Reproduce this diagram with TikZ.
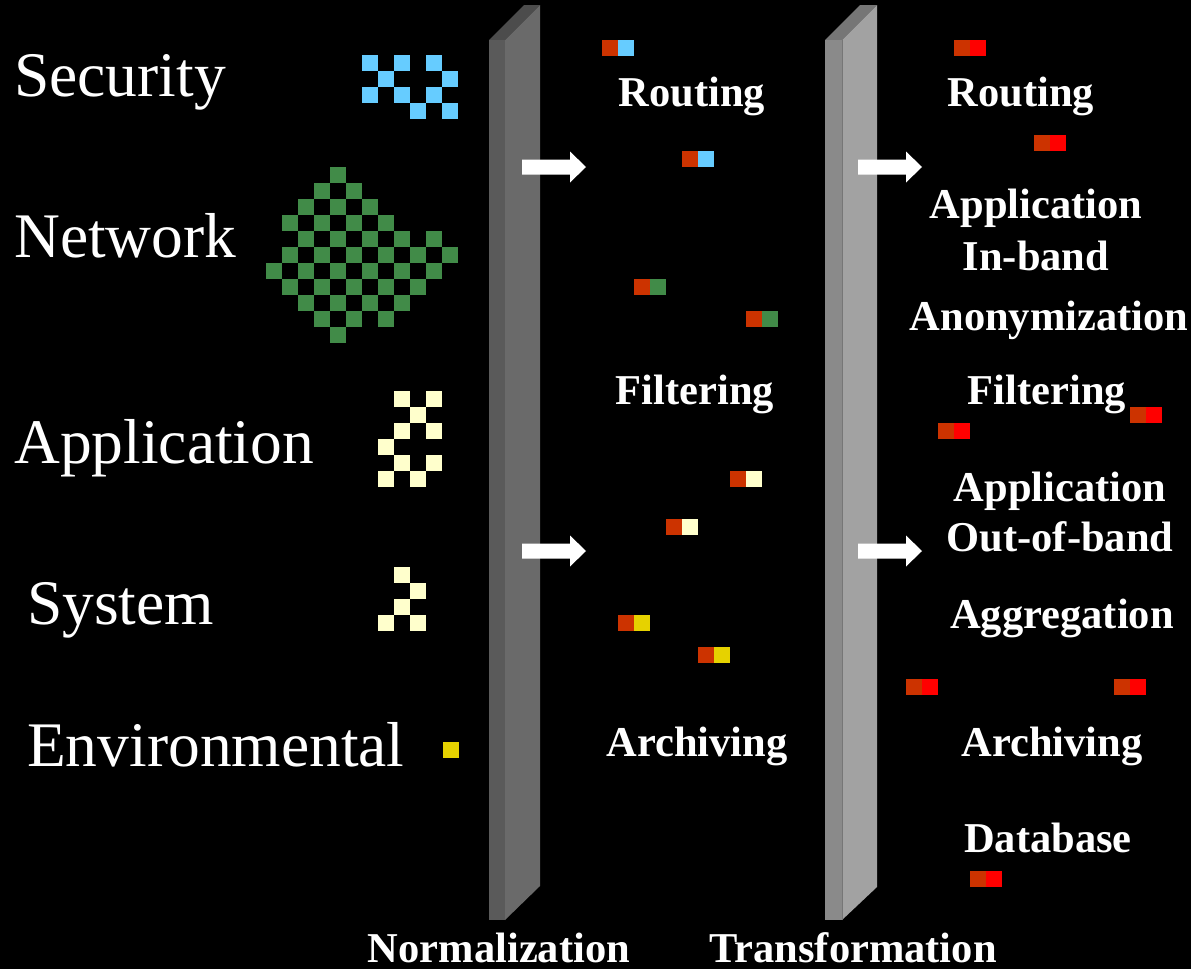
\documentclass[tikz,border=0pt]{standalone}
\usepackage{fontspec}
\setmainfont{Liberation Serif}
\definecolor{secblue}{HTML}{66CCFF}
\definecolor{netgreen}{HTML}{418B48}
\definecolor{appcream}{HTML}{FFFFCC}
\definecolor{envyellow}{HTML}{E6D200}
\definecolor{pairred}{HTML}{CC3300}
\definecolor{brightred}{HTML}{FF0000}
\definecolor{lbartop}{HTML}{4C4C4C}
\definecolor{lbarside}{HTML}{5A5A5A}
\definecolor{lbarfront}{HTML}{6A6A6A}
\definecolor{rbartop}{HTML}{767676}
\definecolor{rbarside}{HTML}{8A8A8A}
\definecolor{rbarfront}{HTML}{A2A2A2}
\tikzset{
  srclabel/.style={anchor=base west,inner sep=0pt,text=white,font=\fontsize{63.5}{70}\selectfont},
  oplabel/.style={anchor=base,inner sep=0pt,text=white,font=\fontsize{42.5}{48}\selectfont\bfseries},
  stagelabel/.style={oplabel,text depth=0pt},
  blockarrow/.pic={\fill[white] (0,-7.5) -- (48,-7.5) -- (48,-15.5) -- (64,0) -- (48,15.5) -- (48,7.5) -- (0,7.5) -- cycle;}
}
\begin{document}
\begin{tikzpicture}[x=1pt,y=-1pt]
\fill[black] (0,0) rectangle (1191,969);
\useasboundingbox (0,0) rectangle (1191,969);

% source categories
\node[srclabel] (security) at (14,96) {Security};
\node[srclabel] (network) at (14,257) {Network};
\node[srclabel] (application) at (14,463) {Application};
\node[srclabel] (system) at (27,624) {System};
\node[srclabel] (environmental) at (27,766) {Environmental};

% event-volume glyphs
\foreach \c/\r in {0/0,2/0,4/0,1/1,5/1,0/2,2/2,4/2,3/3,5/3}
  \fill[secblue] ({362+16*\c},{55+16*\r}) rectangle ++(16,16);
\foreach \c/\r in {4/0, 3/1,5/1, 2/2,4/2,6/2, 1/3,3/3,5/3,7/3,
    2/4,4/4,6/4,8/4,10/4, 1/5,3/5,5/5,7/5,9/5,11/5,
    0/6,2/6,4/6,6/6,8/6,10/6, 1/7,3/7,5/7,7/7,9/7,
    2/8,4/8,6/8,8/8, 3/9,5/9,7/9, 4/10}
  \fill[netgreen] ({266+16*\c},{167+16*\r}) rectangle ++(16,16);
\foreach \c/\r in {1/0,3/0,2/1,1/2,3/2,0/3,1/4,3/4,0/5,2/5}
  \fill[appcream] ({378+16*\c},{391+16*\r}) rectangle ++(16,16);
\foreach \c/\r in {1/0,2/1,1/2,0/3,2/3}
  \fill[appcream] ({378+16*\c},{567+16*\r}) rectangle ++(16,16);
\fill[envyellow] (443,742) rectangle ++(16,16);

% normalization bar
\fill[lbartop] (489,40) -- (524,5) -- (540,5) -- (505,40) -- cycle;
\fill[lbarside] (489,40) -- (505,40) -- (505,920) -- (489,920) -- cycle;
\fill[lbarfront] (505,40) -- (540,5) -- (540,886) -- (505,920) -- cycle;

% transformation bar
\fill[rbartop] (825,40) -- (860,5) -- (877,5) -- (842,40) -- cycle;
\fill[rbarside] (825,40) -- (842,40) -- (842,920) -- (825,920) -- cycle;
\fill[rbarfront] (842,40) -- (877,5) -- (877,887) -- (842,920) -- cycle;
\draw[rbartop,line width=0.8pt] (842,40) -- (842,920);

% flow arrows
\pic at (522,167) {blockarrow};
\pic at (522,551) {blockarrow};
\pic at (858,167) {blockarrow};
\pic at (858,551) {blockarrow};

% normalized events
\foreach \x/\y/\c in {602/40/secblue, 682/151/secblue, 634/279/netgreen, 746/311/netgreen,
    730/471/appcream, 666/519/appcream, 618/615/envyellow, 698/647/envyellow} {
  \fill[pairred] (\x,\y) rectangle ++(16,16);
  \fill[\c] ({\x+16},\y) rectangle ++(16,16);
}
% transformed events
\foreach \x/\y in {954/40, 1034/135, 1130/407, 938/423, 906/679, 1114/679, 970/871} {
  \fill[pairred] (\x,\y) rectangle ++(16,16);
  \fill[brightred] ({\x+16},\y) rectangle ++(16,16);
}

% operations after normalization
\node[oplabel] (routingA) at (692,106) {Routing};
\node[oplabel] (filteringA) at (695,404) {Filtering};
\node[oplabel] (archivingA) at (697,756) {Archiving};

% operations after transformation
\node[oplabel] (routingB) at (1021,106) {Routing};
\node[oplabel] (appinA) at (1036,218) {Application};
\node[oplabel] (appinB) at (1036,270) {In-band};
\node[oplabel] (anon) at (1049,330) {Anonymization};
\node[oplabel] (filteringB) at (1047,404) {Filtering};
\node[oplabel] (appoutA) at (1060,501) {Application};
\node[oplabel] (appoutB) at (1060,551) {Out-of-band};
\node[oplabel] (aggregation) at (1062,628) {Aggregation};
\node[oplabel] (archivingB) at (1052,756) {Archiving};
\node[oplabel] (database) at (1048,852) {Database};

% stage names
\node[stagelabel] (normalization) at (499,962) {Normalization};
\node[stagelabel] (transformation) at (853,962) {Transformation};
\end{tikzpicture}
\end{document}
